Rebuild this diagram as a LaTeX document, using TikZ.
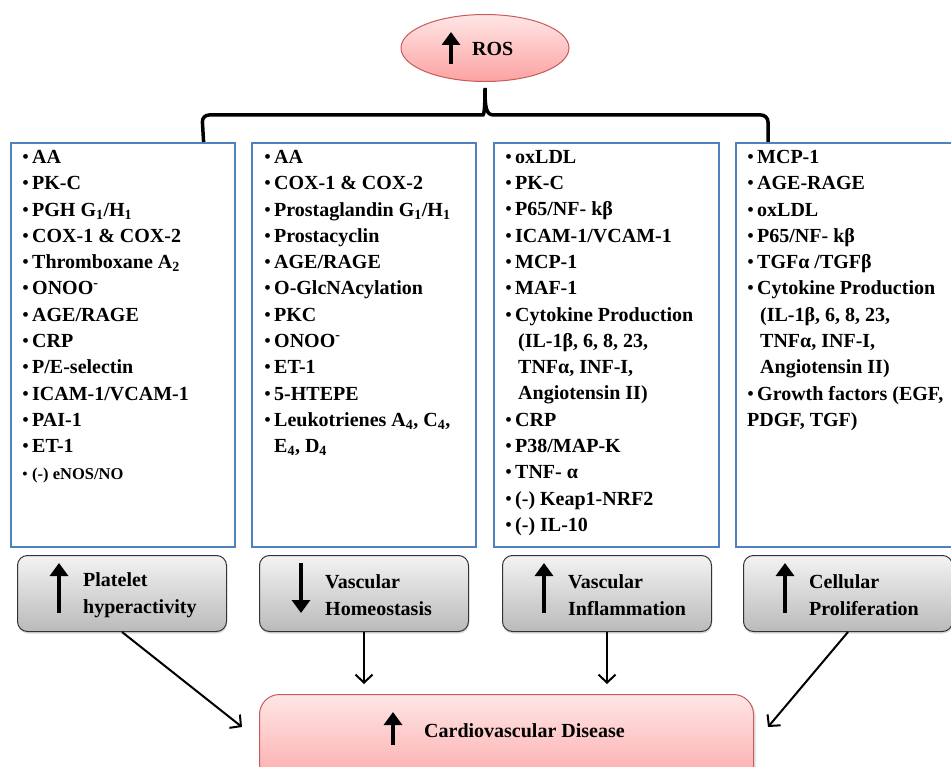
\documentclass[tikz,border=0pt]{standalone}
\usepackage{fontspec}
\setmainfont{Liberation Serif}
\usetikzlibrary{shapes.geometric,arrows.meta,shadows,positioning}

\definecolor{boxblue}{RGB}{79,129,189}
\definecolor{roseedge}{RGB}{200,90,88}
\definecolor{rosetop}{RGB}{255,230,230}
\definecolor{rosebot}{RGB}{252,163,163}
\definecolor{greytop}{RGB}{243,243,243}
\definecolor{greybot}{RGB}{186,186,186}

\newcommand{\bul}[1]{\makebox[10pt][l]{\mdseries\textbullet}#1}
\newcommand{\contline}[1]{\hspace*{13pt}#1}

\tikzset{
  listbox/.style={draw=boxblue, line width=1.6pt, minimum height=404pt, inner sep=0pt},
  listtext/.style={anchor=north west, align=left, inner sep=0pt,
    font=\bfseries\fontsize{20}{26.3}\selectfont},
  rosebox/.style={draw=roseedge, line width=1pt, top color=rosetop, bottom color=rosebot},
  effectbox/.style={draw=black!80, line width=1pt, rounded corners=10pt,
    top color=greytop, bottom color=greybot, minimum width=209pt, minimum height=76pt,
    drop shadow={shadow xshift=0.5pt, shadow yshift=-2pt, opacity=0.3}},
  bigtext/.style={inner sep=0pt, align=left, font=\bfseries\fontsize{20}{27}\selectfont},
  bigarrow/.style={line width=3.6pt, -{Triangle[length=13pt,width=18pt]}},
  link/.style={line width=2pt, -{Straight Barb[length=8pt,width=17pt]}},
  bracket/.style={line width=3.5pt}
}

\begin{document}
\begin{tikzpicture}[x=1pt,y=-1pt]
\useasboundingbox (0,0) rectangle (951,767);

% ROS on top
\node[rosebox, ellipse, minimum width=168pt, minimum height=67pt] (ros) at (485,48) {};
\node[bigtext, anchor=west] (ros-txt) at (472,49) {ROS};
\draw[bigarrow] (451,64) -- (451,32);

% the four lists
\foreach \nm/\lx/\bw in {b1/10/224, b2/251/224, b3/493/225, b4/735/216}
  \node[listbox, anchor=north west, minimum width=\bw pt] (\nm) at (\lx,142) {};

% brace from ROS to the lists
\draw[bracket] ([xshift=-32pt]b1.north east) [rounded corners=7pt] -- (202,115) -- (476,115)
  [sharp corners] .. controls (484,115) and (485,108) .. ([yshift=-6pt]ros.south)
  .. controls (485,108) and (486,115) .. (494,115)
  [rounded corners=7pt] -- (768,115) -- ([xshift=33pt]b4.north west);

\node[listtext] (b1-txt) at (22,150) {\bul{AA}\\ \bul{PK-C}\\
  \bul{PGH G\textsubscript{1}/H\textsubscript{1}}\\ \bul{COX-1 \& COX-2}\\
  \bul{Thromboxane A\textsubscript{2}}\\ \bul{ONOO\textsuperscript{-}}\\
  \bul{AGE/RAGE}\\ \bul{CRP}\\ \bul{P/E-selectin}\\ \bul{ICAM-1/VCAM-1}\\
  \bul{PAI-1}\\ \bul{ET-1}\\ {\fontsize{16.5}{26.3}\selectfont\bul{(-) eNOS/NO}}};

\node[listtext] (b2-txt) at (264,150) {\bul{AA}\\ \bul{COX-1 \& COX-2}\\
  \bul{Prostaglandin G\textsubscript{1}/H\textsubscript{1}}\\ \bul{Prostacyclin}\\
  \bul{AGE/RAGE}\\ \bul{O-GlcNAcylation}\\ \bul{PKC}\\
  \bul{ONOO\textsuperscript{-}}\\ \bul{ET-1}\\ \bul{5-HTEPE}\\
  \bul{Leukotrienes A\textsubscript{4}, C\textsubscript{4},}\\
  \hspace*{10pt}E\textsubscript{4}, D\textsubscript{4}};

\node[listtext] (b3-txt) at (505,150) {\bul{oxLDL}\\ \bul{PK-C}\\ \bul{P65/NF- kβ}\\
  \bul{ICAM-1/VCAM-1}\\ \bul{MCP-1}\\ \bul{MAF-1}\\ \bul{Cytokine Production}\\
  \contline{(IL-1β, 6, 8, 23,}\\ \contline{TNFα, INF-I,}\\ \contline{Angiotensin II)}\\
  \bul{CRP}\\ \bul{P38/MAP-K}\\ \bul{TNF- α}\\ \bul{(-) Keap1-NRF2}\\ \bul{(-) IL-10}};

\node[listtext] (b4-txt) at (747,150) {\bul{MCP-1}\\ \bul{AGE-RAGE}\\ \bul{oxLDL}\\
  \bul{P65/NF- kβ}\\ \bul{TGFα /TGFβ}\\ \bul{Cytokine Production}\\
  \contline{(IL-1β, 6, 8, 23,}\\ \contline{TNFα, INF-I,}\\ \contline{Angiotensin II)}\\
  \bul{Growth factors (EGF,}\\ PDGF, TGF)};

% effects
\foreach \nm/\lx/\ya/\yb/\txt in {pa/17/613/563/{Platelet\\hyperactivity},
    pb/259/563/613/{Vascular\\Homeostasis}, pc/502/613/563/{Vascular\\Inflammation},
    pd/743/613/563/{Cellular\\Proliferation}}{
  \node[effectbox, anchor=north west] (\nm) at (\lx,555) {};
  \node[bigtext, anchor=west] (\nm-txt) at ([xshift=66pt,yshift=-2pt]\nm.west) {\txt};
  \draw[bigarrow] (\lx+42,\ya) -- (\lx+42,\yb);
}

% cardiovascular disease
\node[rosebox, rounded corners=20pt, anchor=north west, minimum width=494pt,
  minimum height=100pt, drop shadow={shadow yshift=-2pt, opacity=0.2}] (cvd) at (259,694) {};
\node[bigtext, anchor=west] (cvd-txt) at (424,731) {Cardiovascular Disease};
\draw[bigarrow] (393,745) -- (393,712);

\coordinate (cvd-l) at (242,727);
\coordinate (cvd-r) at (768,727);
\draw[link] (pa.south) -- (cvd-l);
\draw[link, shorten >=10pt] (pb.south) -- (pb.south |- cvd.north);
\draw[link, shorten >=10pt] (pc.south) -- (pc.south |- cvd.north);
\draw[link] (pd.south) -- (cvd-r);
\end{tikzpicture}
\end{document}
